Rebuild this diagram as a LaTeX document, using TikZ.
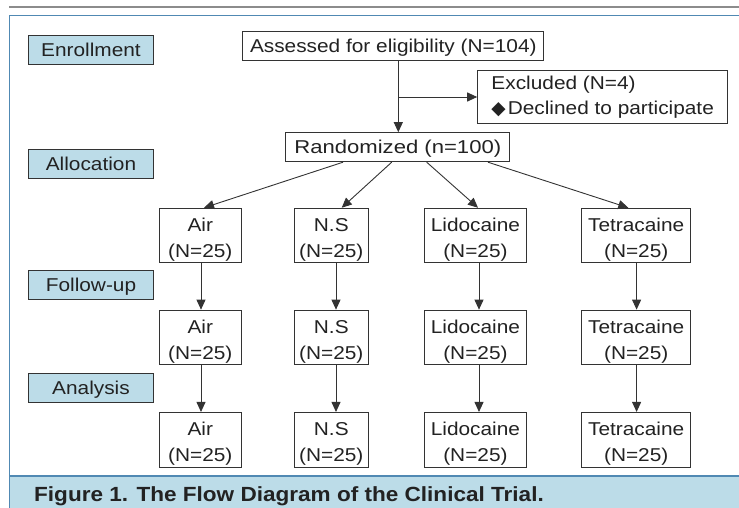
\documentclass[tikz,border=0pt]{standalone}
\usepackage{fontspec}
\usepackage{graphicx}
\setmainfont[FakeStretch=1.12]{Liberation Sans}
\newfontfamily\capfont[FakeStretch=1.1]{Liberation Sans}
\newfontfamily\symfont{DejaVu Sans}
\usetikzlibrary{arrows.meta,calc}
\definecolor{lblfill}{HTML}{BCDCE8}
\definecolor{frameblue}{HTML}{5089B3}
\definecolor{ink}{HTML}{222222}
\definecolor{edge}{HTML}{333333}
\definecolor{rulegray}{HTML}{8C8C8C}
\newcommand\toppad{\rule{0pt}{21.5pt}}
\begin{document}
\begin{tikzpicture}[x=1pt,y=-1pt,
  every node/.style={font=\fontsize{18.6}{26}\selectfont, text=ink, inner sep=0pt},
  box/.style={draw=edge, line width=1pt, fill=white, align=center},
  lbl/.style={draw=edge, line width=1pt, fill=lblfill, minimum width=125.4pt, minimum height=29.3pt, text height=13.3pt, text depth=0pt},
  one/.style={text height=13.3pt, text depth=0pt},
  grp/.style={box, minimum height=54.7pt},
  arr/.style={draw=edge, line width=0.9pt, -{Triangle[length=10pt,width=9pt]}},
]
\useasboundingbox (0,0) rectangle (739,508);
% frame and caption band
\draw[rulegray, line width=2pt] (9,7.3) -- (739,7.3);
\fill[lblfill] (9.3,476) rectangle (739,508);
\draw[frameblue, line width=1.2pt] (9.3,508) -- (9.3,15.7) -- (739,15.7);
\draw[frameblue, line width=1.2pt] (9.3,476) -- (739,476);
\node[anchor=base west, font=\capfont\bfseries\fontsize{20.5}{24}\selectfont] (cap) at (34,501.5) {Figure 1. The Flow Diagram of the Clinical Trial.};

% stage labels
\node[lbl] (enroll) at (91,49.7) {Enrollment};
\node[lbl] (alloc) at (91,164) {Allocation};
\node[lbl] (follow) at (91,284.7) {Follow-up};
\node[lbl] (analysis) at (91,388.3) {Analysis};

% top part
\node[box,one,minimum width=301.3pt,minimum height=29pt] (assessed) at (393.3,46.2) {Assessed for eligibility (N=104)};
\node[box,minimum width=250pt,minimum height=52.5pt,align=left,font=\fontsize{18.6}{25}\selectfont] (excluded) at (602.7,97) {Excluded (N=4)\\{\symfont ◆}\hspace{2pt}Declined to participate};
\node[box,one,minimum width=224.3pt,minimum height=29pt] (random) at (397.8,147.2) {\scalebox{1.06}[1]{Randomized (n=100)}};

% groups
\foreach \r/\y in {1/235.6,2/337.5,3/439.8} {
  \node[grp,minimum width=82pt] (air\r) at (200.3,\y) {\toppad Air\\(N=25)};
  \node[grp,minimum width=74pt] (ns\r) at (331.3,\y) {\toppad N.S\\(N=25)};
  \node[grp,minimum width=102pt] (lido\r) at (475.4,\y) {\toppad Lidocaine\\(N=25)};
  \node[grp,minimum width=109pt] (tetra\r) at (636.2,\y) {\toppad Tetracaine\\(N=25)};
}

% connectors
\coordinate (c0) at (398.3,0);
\draw[arr] (assessed.south -| c0) -- (random.north -| c0);
\draw[arr] (excluded.west -| c0) -- (excluded.west);

\draw[arr] ($(random.south)+(-54.8,0)$) -- ($(air1.north)+(3.7,0)$);
\draw[arr] ($(random.south)+(-6.1,0)$) -- ($(ns1.north)+(10.4,0)$);
\draw[arr] ($(random.south)+(28.9,0)$) -- ($(lido1.north)+(2.6,0)$);
\draw[arr] ($(random.south)+(90.2,0)$) -- ($(tetra1.north)+(-7.9,0)$);

\foreach \a/\b in {1/2,2/3} {
  \draw[arr] ($(air\a.south)+(0.7,0)$) -- ($(air\b.north)+(0.7,0)$);
  \draw[arr] ($(ns\a.south)+(4.7,0)$) -- ($(ns\b.north)+(4.7,0)$);
  \draw[arr] ($(lido\a.south)+(3.6,0)$) -- ($(lido\b.north)+(3.6,0)$);
  \draw[arr] ($(tetra\a.south)+(0.4,0)$) -- ($(tetra\b.north)+(0.4,0)$);
}
\end{tikzpicture}
\end{document}
